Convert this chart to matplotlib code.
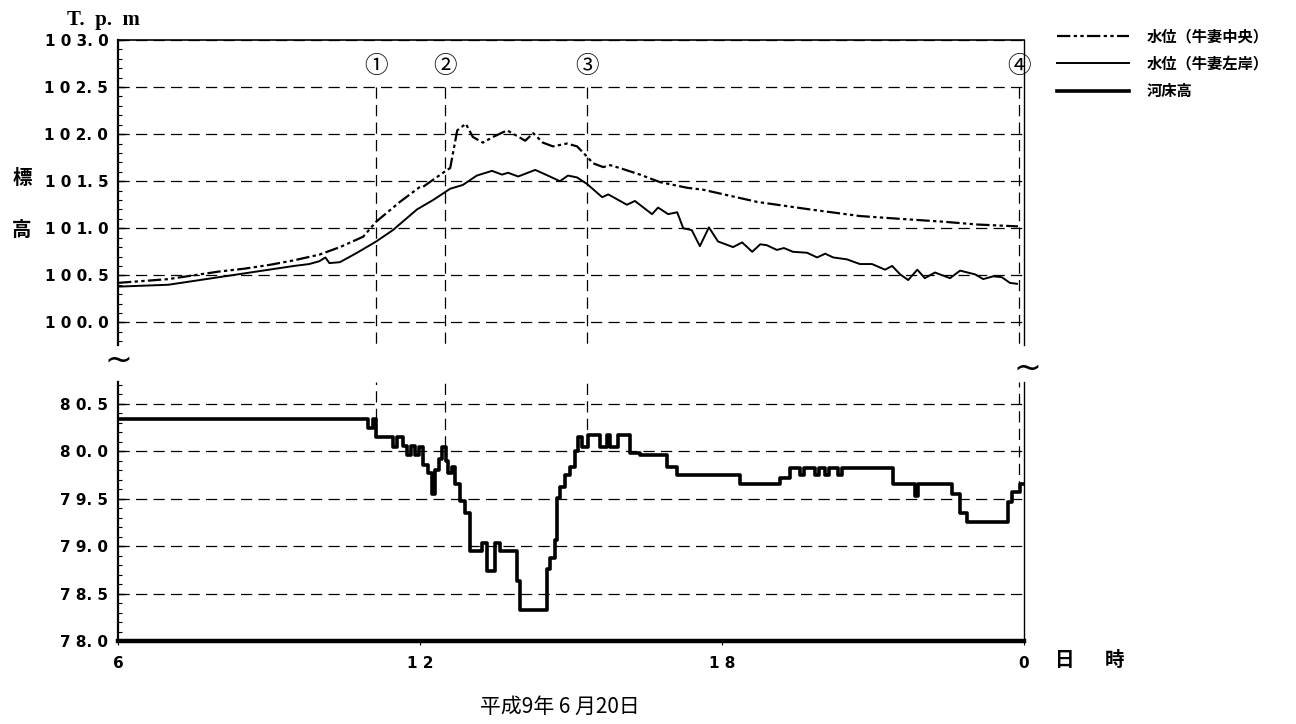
import numpy as np
import matplotlib
matplotlib.use('Agg')
import matplotlib.pyplot as plt
from matplotlib.ticker import MultipleLocator

plt.rcParams['font.family'] = ['DejaVu Sans', 'Noto Sans CJK JP']
CJK = ['Noto Sans CJK JP', 'DejaVu Sans']

# 水位（牛妻中央）  time [h] / level [T.p.m]
t_center = [6.0, 6.5, 7.0, 7.5, 8.0, 8.5, 9.0, 9.5, 10.0, 10.41, 10.87, 11.13, 11.60,
            12.00, 12.06, 12.54, 12.60, 12.74, 12.91, 13.05, 13.25, 13.45, 13.73, 13.93,
            14.09, 14.25, 14.44, 14.64, 14.92, 15.12, 15.32, 15.44, 15.64, 15.78, 15.97,
            16.37, 16.77, 17.31, 17.62, 18.70, 19.75, 20.74, 21.54, 22.39, 23.07, 23.88]
z_center = [100.42, 100.44, 100.46, 100.50, 100.54, 100.57, 100.61, 100.66, 100.72, 100.80,
            100.91, 101.07, 101.28, 101.44, 101.44, 101.62, 101.64, 102.04, 102.11, 101.97,
            101.91, 101.97, 102.04, 101.98, 101.93, 102.01, 101.91, 101.87, 101.90, 101.87,
            101.76, 101.69, 101.65, 101.67, 101.64, 101.57, 101.49, 101.43, 101.41, 101.28,
            101.20, 101.13, 101.10, 101.07, 101.04, 101.02]

# 水位（牛妻左岸）
t_left = [6.0, 6.5, 7.0, 7.5, 8.0, 8.5, 9.0, 9.5, 9.8, 10.0, 10.12, 10.2, 10.41, 10.75,
          11.13, 11.46, 11.94, 12.26, 12.60, 12.85, 13.13, 13.43, 13.63, 13.75, 13.95, 14.29,
          14.58, 14.78, 14.94, 15.12, 15.32, 15.62, 15.74, 16.11, 16.27, 16.61, 16.73, 16.93,
          17.11, 17.23, 17.40, 17.56, 17.74, 17.92, 18.22, 18.40, 18.60, 18.76, 18.89, 19.09,
          19.23, 19.41, 19.69, 19.89, 20.05, 20.21, 20.48, 20.74, 20.98, 21.24, 21.38, 21.54,
          21.70, 21.88, 22.03, 22.23, 22.53, 22.73, 23.03, 23.19, 23.39, 23.56, 23.72, 23.86]
z_left = [100.38, 100.39, 100.40, 100.44, 100.48, 100.52, 100.56, 100.60, 100.62, 100.65,
          100.69, 100.63, 100.64, 100.74, 100.86, 100.98, 101.20, 101.30, 101.42, 101.46,
          101.56, 101.61, 101.57, 101.59, 101.55, 101.62, 101.55, 101.50, 101.56, 101.54,
          101.47, 101.33, 101.36, 101.25, 101.29, 101.15, 101.22, 101.15, 101.17, 101.00,
          100.98, 100.81, 101.01, 100.86, 100.80, 100.85, 100.75, 100.83, 100.82, 100.77,
          100.79, 100.75, 100.74, 100.69, 100.73, 100.69, 100.67, 100.62, 100.62, 100.56,
          100.60, 100.51, 100.45, 100.56, 100.47, 100.53, 100.47, 100.55, 100.51, 100.46,
          100.49, 100.48, 100.42, 100.41]

# 河床高 (step record)
t_bed = [6.0, 10.97, 11.07, 11.13, 11.46, 11.54, 11.66, 11.74, 11.82, 11.90, 11.98, 12.06,
         12.16, 12.24, 12.30, 12.38, 12.44, 12.52, 12.56, 12.64, 12.70, 12.80, 12.89, 12.99,
         13.23, 13.33, 13.49, 13.59, 13.93, 13.99, 14.52, 14.58, 14.68, 14.72, 14.78, 14.88,
         14.98, 15.08, 15.14, 15.22, 15.34, 15.58, 15.72, 15.78, 15.93, 16.17, 16.37, 16.91,
         17.11, 18.36, 19.15, 19.35, 19.55, 19.63, 19.85, 19.93, 20.05, 20.13, 20.31, 20.38,
         21.40, 21.84, 21.90, 22.57, 22.73, 22.87, 23.68, 23.76, 23.92, 24.0]
z_bed = [80.34, 80.24, 80.34, 80.15, 80.04, 80.15, 80.06, 79.96, 80.06, 79.96, 80.04, 79.85,
         79.77, 79.55, 79.80, 79.92, 80.04, 79.90, 79.77, 79.83, 79.66, 79.48, 79.35, 78.95,
         79.03, 78.74, 79.03, 78.95, 78.63, 78.33, 78.76, 78.88, 79.06, 79.51, 79.62, 79.75,
         79.83, 80.00, 80.15, 80.04, 80.17, 80.04, 80.17, 80.04, 80.17, 79.98, 79.96, 79.83,
         79.75, 79.65, 79.72, 79.82, 79.75, 79.82, 79.75, 79.82, 79.75, 79.82, 79.75, 79.82,
         79.66, 79.53, 79.66, 79.55, 79.35, 79.25, 79.46, 79.57, 79.66, 79.66]

marks = ['①', '②', '③', '④']
t_marks = [11.13, 12.50, 15.32, 23.90]

top_ticks = [100.0, 100.5, 101.0, 101.5, 102.0, 102.5, 103.0]
top_labels = ['1 0 0. 0', '1 0 0. 5', '1 0 1. 0', '1 0 1. 5', '1 0 2. 0', '1 0 2. 5', '1 0 3. 0']
bot_ticks = [78.0, 78.5, 79.0, 79.5, 80.0, 80.5]
bot_labels = ['7 8. 0', '7 8. 5', '7 9. 0', '7 9. 5', '8 0. 0', '8 0. 5']
x_ticks = [6, 12, 18, 24]
x_labels = ['6', '1 2', '1 8', '0']
legend_labels = ['水位（牛妻中央）', '水位（牛妻左岸）', '河床高']

W, H = 1296, 724
fig = plt.figure(figsize=(W / 100, H / 100), dpi=100)
x0, x1 = 118 / W, 1024 / W
ax1 = fig.add_axes([x0, 1 - 345 / H, x1 - x0, (345 - 40) / H])
ax2 = fig.add_axes([x0, 1 - 641 / H, x1 - x0, (641 - 382) / H])

grid_ls = (0, (9, 5))
for ax, ylim, ticks, labels in [(ax1, (99.76, 103.0), top_ticks, top_labels),
                                (ax2, (78.0, 80.73), bot_ticks, bot_labels)]:
    ax.set_xlim(6, 24)
    ax.set_ylim(*ylim)
    ax.set_yticks(ticks)
    ax.set_yticklabels(labels, fontsize=11, fontweight='bold')
    ax.yaxis.set_minor_locator(MultipleLocator(0.1))
    ax.tick_params(axis='y', which='major', direction='in', length=5, width=1, pad=7)
    ax.tick_params(axis='y', which='minor', direction='in', length=3, width=0.8)
    for t in ticks:
        ax.axhline(t, color='black', lw=0.9, ls=grid_ls, zorder=1)
    ax.spines['left'].set_linewidth(1.6)
    ax.spines['right'].set_linewidth(1.0)

ax1.spines['bottom'].set_visible(False)
ax1.spines['top'].set_linewidth(1.2)
ax1.tick_params(axis='x', bottom=False, labelbottom=False)

ax2.spines['top'].set_visible(False)
ax2.spines['bottom'].set_linewidth(3.2)
ax2.set_xticks(x_ticks)
ax2.set_xticklabels(x_labels, fontsize=11, fontweight='bold')
ax2.tick_params(axis='x', direction='out', length=3, pad=8)

l1, = ax1.plot(t_center, z_center, color='black', lw=1.6,
               ls=(0, (6, 1.5, 1.5, 1.5, 1.5, 1.5)), zorder=3)
l2, = ax1.plot(t_left, z_left, color='black', lw=1.4, zorder=3)
l3, = ax2.plot(t_bed, z_bed, color='black', lw=2.6, drawstyle='steps-post', zorder=3)

# event lines
ax1.vlines(t_marks, 102.5, 99.76, colors='black', lw=0.9, linestyles=grid_ls, zorder=2)
idx = np.searchsorted(t_bed, t_marks, side='right') - 1
bed_at = [z_bed[i] for i in idx]
ax2.vlines(t_marks, bed_at, 80.73, colors='black', lw=0.9, linestyles=grid_ls, zorder=2)
for t, m in zip(t_marks, marks):
    ax1.text(t, 102.72, m, ha='center', va='center', fontsize=17, family=CJK)

fig.legend([l1, l2, l3], legend_labels, loc='upper left', bbox_to_anchor=(1057 / W, 1 - 28 / H),
           frameon=False, handlelength=4.7, handletextpad=1.2, labelspacing=0.75,
           borderaxespad=0, borderpad=0,
           prop={'family': CJK, 'weight': 'bold', 'size': 11})

fig.text(103 / W, 1 - 20 / H, 'T.  p.  m', family='Liberation Serif', fontweight='bold',
         fontsize=15, ha='center', va='center')
fig.text(22 / W, 1 - 178 / H, '標', family=CJK, fontweight='bold', fontsize=14,
         ha='center', va='center')
fig.text(22 / W, 1 - 230 / H, '高', family=CJK, fontweight='bold', fontsize=14,
         ha='center', va='center')
fig.text(1065 / W, 1 - 660 / H, '日', family=CJK, fontweight='bold', fontsize=14,
         ha='center', va='center')
fig.text(1115 / W, 1 - 660 / H, '時', family=CJK, fontweight='bold', fontsize=14,
         ha='center', va='center')
fig.text(560 / W, 1 - 707 / H, '平成9年 6 月20日', family=CJK, fontsize=15,
         ha='center', va='center')
fig.text(118 / W, 1 - 360 / H, '~', fontsize=24, ha='center', va='center')
fig.text(1027 / W, 1 - 368 / H, '~', fontsize=24, ha='center', va='center')

fig.savefig('out.png', dpi=100)
